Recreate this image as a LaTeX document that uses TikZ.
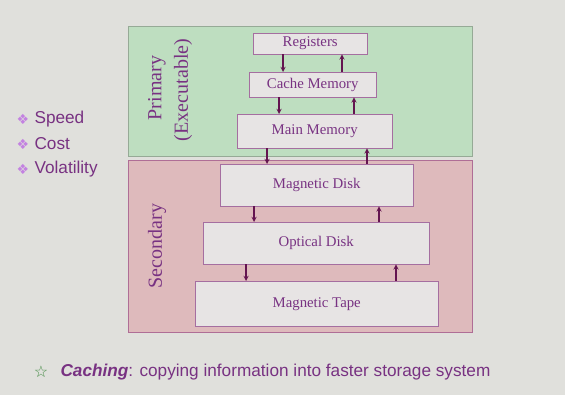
\documentclass[tikz,border=0pt]{standalone}
\usepackage{fontspec}
\setmainfont{Liberation Serif}
\setsansfont{Liberation Sans}
\newfontfamily\symfont{DejaVu Sans}
\usetikzlibrary{positioning}

\definecolor{bgcol}{RGB}{224,224,220}
\definecolor{primcol}{RGB}{190,222,192}
\definecolor{primline}{RGB}{150,170,150}
\definecolor{seccol}{RGB}{222,186,188}
\definecolor{secline}{RGB}{175,110,150}
\definecolor{boxcol}{RGB}{231,228,228}
\definecolor{boxline}{RGB}{165,110,160}
\definecolor{txtcol}{RGB}{120,50,130}
\definecolor{arrcol}{RGB}{100,20,80}
\definecolor{bulcol}{RGB}{195,130,225}
\definecolor{starcol}{RGB}{70,140,70}

\tikzset{
  level/.style={draw=boxline, fill=boxcol, text=txtcol, font=\fontsize{14.8}{17}\selectfont,
    minimum height=#1, inner sep=0pt, anchor=north west},
  flow/.style={->, draw=arrcol, line width=1.3pt},
  side/.style={text=txtcol, rotate=90, font=\fontsize{20}{22}\selectfont},
  item/.style={text=txtcol, anchor=west, font=\sffamily\fontsize{17.2}{19}\selectfont},
  bul/.style={text=bulcol, font=\symfont\fontsize{14}{16}\selectfont}
}

\begin{document}
\begin{tikzpicture}[x=1pt, y=-1pt, >=stealth]

    % Background
    \fill[bgcol] (0,0) rectangle (565,395);
    \useasboundingbox (0,0) rectangle (565,395);

    % Storage groups
    \draw[primline, fill=primcol] (128,26) rectangle (472,156);
    \draw[secline, fill=seccol] (128,160) rectangle (472,332);
    \node[side] (prim) at (157,88) {Primary};
    \node[side] (exec) at (183,90) {(Executable)};
    \node[side] (sec) at (157,246) {Secondary};

    % Hierarchy levels
    \node[level=21pt, minimum width=114pt] (reg) at (253,33) {Registers};
    \node[level=25pt, minimum width=127pt] (cache) at (249,72) {Cache Memory};
    \node[level=34pt, minimum width=155pt] (main) at (237,114) {Main Memory};
    \node[level=42pt, minimum width=193pt] (mdisk) at (220,164) {Magnetic Disk};
    \node[level=42pt, minimum width=226pt] (odisk) at (203,222) {Optical Disk};
    \node[level=45pt, minimum width=243pt] (mtape) at (195,281) {Magnetic Tape};

    % Transfers between levels
    \foreach \a/\b/\xd/\xu in {reg/cache/283/342, cache/main/279/354, main/mdisk/267/367,
        mdisk/odisk/254/379, odisk/mtape/246/396} {
        \draw[flow] (\a.south -| \xd,0) -- (\b.north -| \xd,0);
        \draw[flow] (\b.north -| \xu,0) -- (\a.south -| \xu,0);
    }

    % Criteria
    \node[bul] (b1) at (23,119) {❖};
    \node[item] (speed) at (31,119) {Speed};
    \node[bul] (b2) at (23,144) {❖};
    \node[item] (cost) at (31,144) {Cost};
    \node[bul] (b3) at (23,169) {❖};
    \node[item] (vol) at (31,169) {Volatility};

    % Caching note
    \node[text=starcol, font=\symfont\fontsize{16}{18}\selectfont] (star) at (41,372) {☆};
    \node[item, text=txtcol] (note) at (57,372)
        {\textbf{\textit{Caching}}: copying information into faster storage system};

\end{tikzpicture}
\end{document}
